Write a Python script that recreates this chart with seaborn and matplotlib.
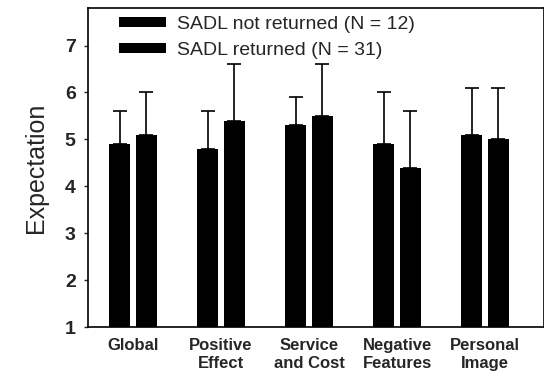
import matplotlib
matplotlib.use("Agg")
import matplotlib.pyplot as plt
import seaborn as sns
import pandas as pd
import numpy as np

categories = ["Global", "Positive\nEffect", "Service\nand Cost", "Negative\nFeatures", "Personal\nImage"]
series = ["SADL not returned (N = 12)", "SADL returned (N = 31)"]
not_returned = [4.9, 4.8, 5.3, 4.9, 5.1]
returned = [5.1, 5.4, 5.5, 4.4, 5.0]
not_returned_err = [0.7, 0.8, 0.6, 1.1, 1.0]
returned_err = [0.9, 1.2, 1.1, 1.2, 1.1]

df = pd.DataFrame({
    "cat": categories * 2,
    "grp": [series[0]] * 5 + [series[1]] * 5,
    "val": not_returned + returned,
})

sns.set_style("white")
plt.rcParams["font.family"] = ["Liberation Sans", "DejaVu Sans"]

fig = plt.figure(figsize=(5.44, 3.8), dpi=100)
ax = fig.add_axes([0.162, 0.139, 0.838, 0.840])

sns.barplot(data=df, x="cat", y="val", hue="grp", order=categories, hue_order=series,
            palette=["black", "black"], width=0.6, gap=0.2,
            errorbar=None, ax=ax, linewidth=0)

# error bars (upper only) from bar positions
errs = not_returned_err + returned_err
vals = not_returned + returned
bars = [p for p in ax.patches if p.get_height() > 0][:10]
for p, v, e in zip(bars, vals, errs):
    xc = p.get_x() + p.get_width() / 2
    ax.errorbar(xc, v, yerr=[[0], [e]], fmt="none", ecolor="black", elinewidth=1.2,
                capsize=5, capthick=1.2)

ax.set_ylim(1, 7.8)
ax.set_xlim(-0.51, 4.67)
ax.set_yticks([1, 2, 3, 4, 5, 6, 7])
ax.set_ylabel("Expectation", fontsize=18, labelpad=12)
ax.set_xlabel("")
ax.tick_params(axis="y", labelsize=14, length=3, width=1, left=True, direction="out", pad=6)
ax.tick_params(axis="x", labelsize=12, length=0, pad=8)
for lab in ax.get_yticklabels():
    lab.set_fontweight("bold")
for lab in ax.get_xticklabels():
    lab.set_fontweight("bold")
for s in ["left", "bottom", "top", "right"]:
    ax.spines[s].set_color("black")
    ax.spines[s].set_linewidth(1.2)

leg = ax.legend(loc="upper left", bbox_to_anchor=(0.03, 1.03), frameon=False, fontsize=14,
                handlelength=2.4, handleheight=0.45, labelspacing=0.45, handletextpad=0.55)

fig.savefig("out.png", dpi=100)
